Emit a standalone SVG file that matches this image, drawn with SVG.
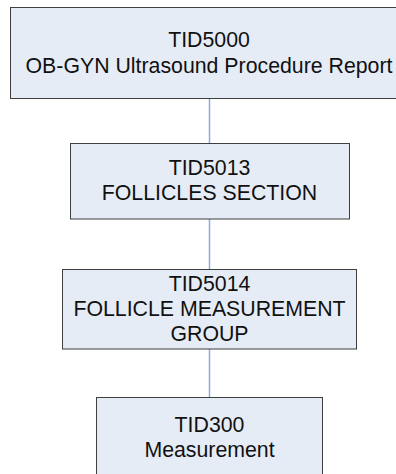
<svg xmlns="http://www.w3.org/2000/svg" width="396" height="474" viewBox="0 0 396 474">
  <style>
    .box { fill: #E6ECF6; stroke: #3F3F3F; stroke-width: 1; }
    .lbl { font-family: "Liberation Sans", Arial, sans-serif; font-size: 21.3px; fill: #111111; text-anchor: middle; }
    .conn { stroke: #8FAADC; stroke-width: 1.5; fill: none; }
  </style>
  <rect width="396" height="474" fill="#FFFFFF"/>
  <g id="connectors">
    <line class="conn" x1="209.5" y1="99" x2="209.5" y2="143"/>
    <line class="conn" x1="209.5" y1="219" x2="209.5" y2="269"/>
    <line class="conn" x1="209.5" y1="349" x2="209.5" y2="397"/>
  </g>
  <g id="tid5000">
    <rect class="box" x="10.5" y="7.5" width="398" height="91"/>
    <text class="lbl" x="209" y="46.7">TID5000</text>
    <text class="lbl" x="209" y="72.7">OB-GYN Ultrasound Procedure Report</text>
  </g>
  <g id="tid5013">
    <rect class="box" x="70.5" y="143.5" width="279" height="75.5"/>
    <text class="lbl" x="209.5" y="175">TID5013</text>
    <text class="lbl" x="209.5" y="200">FOLLICLES SECTION</text>
  </g>
  <g id="tid5014">
    <rect class="box" x="62.5" y="269.5" width="294" height="79.5"/>
    <text class="lbl" x="209.5" y="290.7">TID5014</text>
    <text class="lbl" x="209.5" y="316">FOLLICLE MEASUREMENT</text>
    <text class="lbl" x="209.5" y="341.3">GROUP</text>
  </g>
  <g id="tid300">
    <rect class="box" x="96.5" y="397.5" width="226" height="90"/>
    <text class="lbl" x="209.5" y="432.3">TID300</text>
    <text class="lbl" x="209.5" y="456.7">Measurement</text>
  </g>
</svg>
